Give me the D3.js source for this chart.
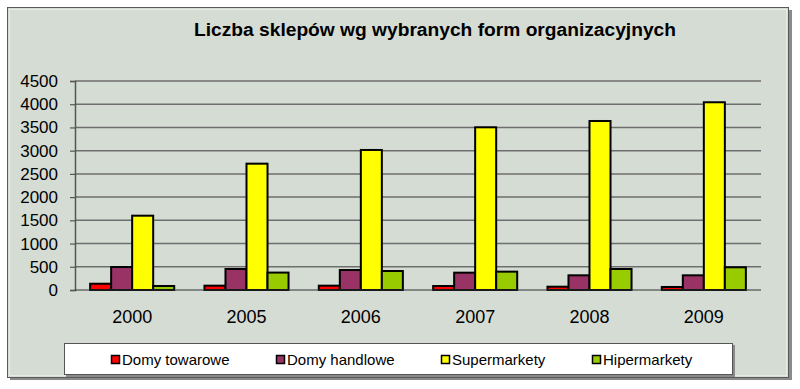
<!DOCTYPE html>
<html>
<head>
<meta charset="utf-8">
<script src="https://cdn.jsdelivr.net/npm/d3@7"></script>
<style>
  body { margin: 0; background: #ffffff; }
  svg { display: block; font-family: "Liberation Sans", Arial, sans-serif; }
</style>
</head>
<body>
<svg id="chart" width="800" height="389"></svg>
<script>
// data
const years = ["2000", "2005", "2006", "2007", "2008", "2009"];
const seriesNames = ["Domy towarowe", "Domy handlowe", "Supermarkety", "Hipermarkety"];
const domyTowarowe = [135, 93, 93, 86, 71, 65];
const domyHandlowe = [495, 452, 430, 373, 316, 316];
const supermarkety = [1600, 2720, 3015, 3503, 3639, 4042];
const hipermarkety = [86, 375, 409, 395, 452, 489];
const yTicks = [0, 500, 1000, 1500, 2000, 2500, 3000, 3500, 4000, 4500];
const colors = ["#ff0000", "#993366", "#ffff00", "#99cc00"];

const seriesValues = [domyTowarowe, domyHandlowe, supermarkety, hipermarkety];

const svg = d3.select("#chart");

// frame with shadow
svg.append("rect")
  .attr("x", 10).attr("y", 10).attr("width", 782).attr("height", 370)
  .attr("fill", "#8a8a8a");
svg.append("rect")
  .attr("x", 7.5).attr("y", 7.5).attr("width", 781).attr("height", 370)
  .attr("fill", "#d5dcd4").attr("stroke", "#5a5a5a").attr("stroke-width", 1);
svg.append("rect")
  .attr("x", 9.5).attr("y", 9.5).attr("width", 777).attr("height", 366)
  .attr("fill", "none").attr("stroke", "#e6ebe4").attr("stroke-width", 1);

const margin = { top: 81, right: 39, bottom: 99, left: 75 };
const width = 800;
const height = 389;

const x0 = d3.scaleBand()
  .domain(years)
  .range([margin.left, width - margin.right])
  .paddingInner(0).paddingOuter(0);

const x1 = d3.scaleBand()
  .domain(seriesNames)
  .range([0, x0.bandwidth()])
  .paddingInner(0)
  .paddingOuter(0.72);

const y = d3.scaleLinear()
  .domain([0, 4500])
  .range([height - margin.bottom, margin.top]);

// gridlines
svg.append("g")
  .selectAll("line")
  .data(yTicks.slice(1))
  .join("line")
  .attr("x1", margin.left)
  .attr("x2", width - margin.right)
  .attr("y1", d => y(d))
  .attr("y2", d => y(d))
  .attr("stroke", "#6e6e6e")
  .attr("stroke-width", 1.5);

// y axis
const yAxis = svg.append("g")
  .attr("transform", `translate(${margin.left},0)`)
  .call(d3.axisLeft(y).tickValues(yTicks).tickFormat(d3.format("d")).tickSize(5).tickPadding(12));
yAxis.select(".domain").attr("stroke", "#555555").attr("stroke-width", 1.5);
yAxis.selectAll(".tick line").attr("stroke", "#555555").attr("stroke-width", 1.2);
yAxis.selectAll("text")
  .attr("font-size", 17)
  .attr("fill", "#000000")
  .attr("font-family", "Liberation Sans, Arial, sans-serif");

// bars
const groups = svg.append("g")
  .selectAll("g")
  .data(years)
  .join("g")
  .attr("transform", d => `translate(${x0(d)},0)`);

groups.selectAll("rect")
  .data((d, i) => seriesNames.map((s, j) => ({ s, j, v: seriesValues[j][i] })))
  .join("rect")
  .attr("x", d => x1(d.s))
  .attr("y", d => y(d.v))
  .attr("width", x1.bandwidth())
  .attr("height", d => y(0) - y(d.v))
  .attr("fill", d => colors[d.j])
  .attr("stroke", "#000000")
  .attr("stroke-width", 2);

// x axis base line
svg.append("line")
  .attr("x1", margin.left).attr("x2", width - margin.right)
  .attr("y1", y(0)).attr("y2", y(0))
  .attr("stroke", "#333333").attr("stroke-width", 1.2);

// x labels
svg.append("g")
  .selectAll("text")
  .data(years)
  .join("text")
  .attr("x", d => x0(d) + x0.bandwidth() / 2)
  .attr("y", 323)
  .attr("text-anchor", "middle")
  .attr("font-size", 18)
  .text(d => d);

// title
svg.append("text")
  .attr("x", 435)
  .attr("y", 36)
  .attr("text-anchor", "middle")
  .attr("font-size", 18)
  .attr("font-weight", "bold")
  .attr("textLength", 482)
  .attr("lengthAdjust", "spacingAndGlyphs")
  .text("Liczba sklepów wg wybranych form organizacyjnych");

// legend
svg.append("rect")
  .attr("x", 66).attr("y", 345).attr("width", 669).attr("height", 32)
  .attr("fill", "#8a8a8a");
svg.append("rect")
  .attr("x", 64.5).attr("y", 343.5).attr("width", 668).attr("height", 31)
  .attr("fill", "#ffffff").attr("stroke", "#555555").attr("stroke-width", 1);

const legendX = [111, 276, 441, 592];
const legend = svg.append("g")
  .selectAll("g")
  .data(seriesNames)
  .join("g")
  .attr("transform", (d, i) => `translate(${legendX[i]},355)`);
legend.append("rect")
  .attr("x", 0.5).attr("y", 0.5).attr("width", 8).attr("height", 8)
  .attr("fill", (d, i) => colors[i])
  .attr("stroke", "#000000").attr("stroke-width", 1.5);
legend.append("text")
  .attr("x", 11)
  .attr("y", 10)
  .attr("font-size", 15)
  .text(d => d);
</script>
</body>
</html>
